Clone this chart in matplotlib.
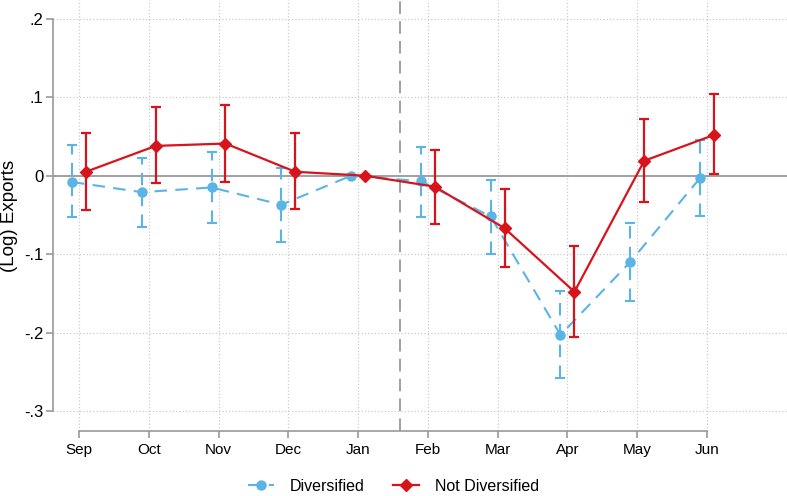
import matplotlib
matplotlib.use("Agg")
import matplotlib.pyplot as plt
import numpy as np

plt.rcParams["font.family"] = ["Liberation Sans", "DejaVu Sans"]

MONTHS = ["Sep", "Oct", "Nov", "Dec", "Jan", "Feb", "Mar", "Apr", "May", "Jun"]

# Diversified (point, lower CI, upper CI); Jan is the reference month
div_est = [-0.008, -0.021, -0.015, -0.037, 0.0, -0.007, -0.052, -0.203, -0.110, -0.003]
div_lo = [-0.053, -0.066, -0.060, -0.084, 0.0, -0.053, -0.100, -0.258, -0.160, -0.051]
div_hi = [0.039, 0.023, 0.030, 0.010, 0.0, 0.036, -0.005, -0.147, -0.060, 0.045]

# Not diversified
nd_est = [0.005, 0.038, 0.041, 0.005, 0.0, -0.014, -0.067, -0.148, 0.019, 0.052]
nd_lo = [-0.044, -0.009, -0.008, -0.043, 0.0, -0.061, -0.117, -0.206, -0.033, 0.002]
nd_hi = [0.054, 0.087, 0.090, 0.054, 0.0, 0.033, -0.017, -0.090, 0.072, 0.104]

BLUE = "#5ab4e6"
RED = "#d7141c"
GREY = "#999999"


def main():
    x = np.arange(len(MONTHS))
    fig = plt.figure(figsize=(7.87, 4.96), dpi=100)
    ax = fig.add_axes([0.0673, 0.131, 0.9327, 0.869])

    # grid, reference lines
    for xi in x:
        ax.axvline(xi, color="#cccccc", ls=":", lw=0.9, zorder=0)
    for yi in [-0.3, -0.2, -0.1, 0.1, 0.2]:
        ax.axhline(yi, color="#cccccc", ls=":", lw=0.9, zorder=0)
    ax.axhline(0, color=GREY, lw=1.3, zorder=1)
    ax.axvline(4.6, color=GREY, lw=1.3, ls=(0, (7, 4)), zorder=1)

    # diversified (Jan has no interval)
    de = np.array(div_est)
    derr = np.array([de - np.array(div_lo), np.array(div_hi) - de])
    ax.plot(x - 0.1, de, color=BLUE, ls=(0, (6, 4)), lw=1.5, marker="o",
            ms=6.5, zorder=3, label="Diversified")
    mask = x != 4
    _, caps, bars = ax.errorbar(x[mask] - 0.1, de[mask], yerr=derr[:, mask], fmt="none",
                                ecolor=BLUE, elinewidth=1.5, capsize=3.5, capthick=1.5,
                                zorder=3)
    for b in bars:
        b.set_linestyle((0, (6, 4)))

    ne = np.array(nd_est)
    nerr = np.array([ne - np.array(nd_lo), np.array(nd_hi) - ne])
    ax.plot(x + 0.1, ne, color=RED, lw=1.6, marker="D", ms=6, zorder=4,
            label="Not Diversified")
    ax.errorbar(x[mask] + 0.1, ne[mask], yerr=nerr[:, mask], fmt="none",
                ecolor=RED, elinewidth=1.6, capsize=3.5, capthick=1.6, zorder=4)

    ax.set_xlim(-0.372, 10.146)
    ax.set_ylim(-0.3255, 0.224)
    ax.set_xticks(x)
    ax.set_xticklabels(MONTHS, fontsize=11)
    yt = [-0.3, -0.2, -0.1, 0.0, 0.1, 0.2]
    ax.set_yticks(yt)
    ax.set_yticklabels(["-.3", "-.2", "-.1", "0", ".1", ".2"], fontsize=12)
    ax.tick_params(axis="both", colors=GREY, labelcolor="black", length=5, width=1.2)
    ax.tick_params(axis="y", pad=2)
    ax.set_ylabel("(Log) Exports", fontsize=13.5, labelpad=4)

    for s in ["top", "right"]:
        ax.spines[s].set_visible(False)
    ax.spines["left"].set_bounds(-0.3, 0.2)
    ax.spines["bottom"].set_bounds(0, 9)
    for s in ["left", "bottom"]:
        ax.spines[s].set_color(GREY)
        ax.spines[s].set_linewidth(1.2)

    fig.legend(loc="lower center", bbox_to_anchor=(0.5, -0.025), ncol=2, frameon=False,
               fontsize=11.5, handlelength=1.6, handletextpad=1.0, columnspacing=1.8)

    fig.savefig("out.png", dpi=100)


if __name__ == "__main__":
    main()
